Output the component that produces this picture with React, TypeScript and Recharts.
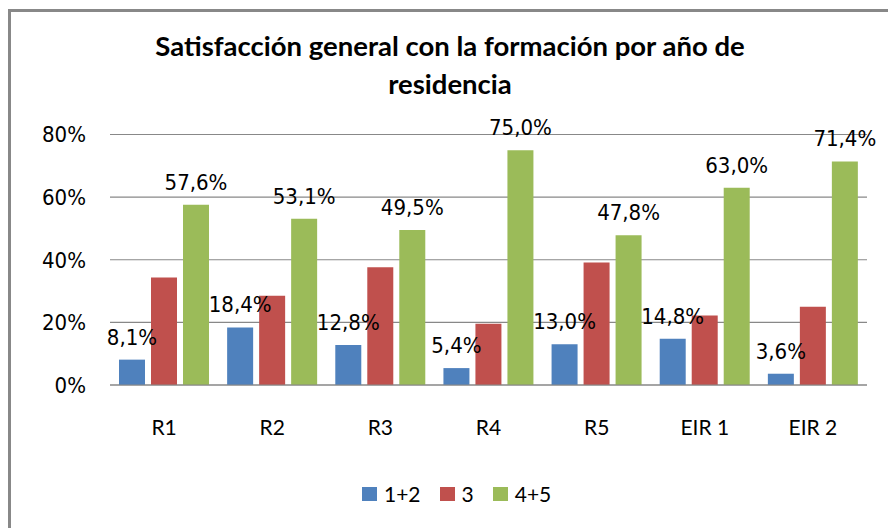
import { BarChart, Bar, XAxis, YAxis, CartesianGrid, LabelList } from 'recharts';

const categories = ['R1', 'R2', 'R3', 'R4', 'R5', 'EIR 1', 'EIR 2'];
const low = [0.081, 0.184, 0.128, 0.054, 0.13, 0.148, 0.036];
const mid = [0.343, 0.285, 0.376, 0.196, 0.391, 0.222, 0.25];
const high = [0.576, 0.531, 0.495, 0.75, 0.478, 0.63, 0.714];
const yTicks = [0, 0.2, 0.4, 0.6, 0.8];

const seriesInfo = [
  { key: 'low', name: '1+2', color: '#4F81BD' },
  { key: 'mid', name: '3', color: '#C0504D' },
  { key: 'high', name: '4+5', color: '#9BBB59' },
];

const data = categories.map((c, i) => ({ cat: c, low: low[i], mid: mid[i], high: high[i] }));

const pct = (v: number) => `${Math.round(v * 100)}%`;
const pct1 = (v: any) => `${(Number(v) * 100).toFixed(1).replace('.', ',')}%`;

const numFont = "'DejaVu Sans Condensed', 'DejaVu Sans', sans-serif";
const labelFont = { fontFamily: numFont, fontSize: 22, fill: '#000' };

export default function App() {
  return (
    <div style={{ position: 'absolute', left: 0, top: 0, width: 888, height: 528, background: '#fff', overflow: 'hidden' }}>
      <div style={{ position: 'absolute', left: 8, top: 9, width: 950, height: 600, border: '3px solid #888' }} />
      <div style={{
        position: 'absolute', left: 6, top: 27, width: 888, textAlign: 'center',
        fontFamily: 'Lato, sans-serif', fontWeight: 700, fontSize: 27.5, lineHeight: '38px', color: '#000',
      }}>
        Satisfacción general con la formación por año de<br />residencia
      </div>
      <div style={{ position: 'absolute', left: 0, top: 0 }}>
        <BarChart
          width={888}
          height={528}
          data={data}
          margin={{ top: 134.5, right: 21, bottom: 103, left: 10 }}
          barSize={26}
          barGap={6}
        >
          <CartesianGrid vertical={false} stroke="#888" strokeWidth={1.2} />
          <XAxis
            dataKey="cat"
            height={40}
            axisLine={{ stroke: '#888', strokeWidth: 1.2 }}
            tickLine={false}
            tickSize={0}
            tickMargin={35}
            tick={{ fontFamily: 'Lato, sans-serif', fontSize: 21, fill: '#000' }}
          />
          <YAxis
            width={100}
            domain={[0, 0.8]}
            ticks={yTicks}
            tickFormatter={pct}
            axisLine={false}
            tickLine={false}
            tickSize={0}
            tickMargin={24}
            tick={{ fontFamily: numFont, fontSize: 22, fill: '#000' }}
          />
          <Bar dataKey="low" name="1+2" fill="#4F81BD" isAnimationActive={false}>
            <LabelList dataKey="low" position="top" offset={15} formatter={pct1} style={labelFont} />
          </Bar>
          <Bar dataKey="mid" name="3" fill="#C0504D" isAnimationActive={false} />
          <Bar dataKey="high" name="4+5" fill="#9BBB59" isAnimationActive={false}>
            <LabelList dataKey="high" position="top" offset={15} formatter={pct1} style={labelFont} />
          </Bar>
        </BarChart>
      </div>
      <div style={{
        position: 'absolute', left: 362, top: 481, display: 'flex', alignItems: 'center', gap: 19,
        fontFamily: 'Lato, sans-serif', fontSize: 21, color: '#000',
      }}>
        {seriesInfo.map(s => (
          <span key={s.key} style={{ display: 'flex', alignItems: 'center', gap: 7 }}>
            <span style={{ width: 15, height: 14, background: s.color, display: 'inline-block' }} />
            {s.name}
          </span>
        ))}
      </div>
    </div>
  );
}
